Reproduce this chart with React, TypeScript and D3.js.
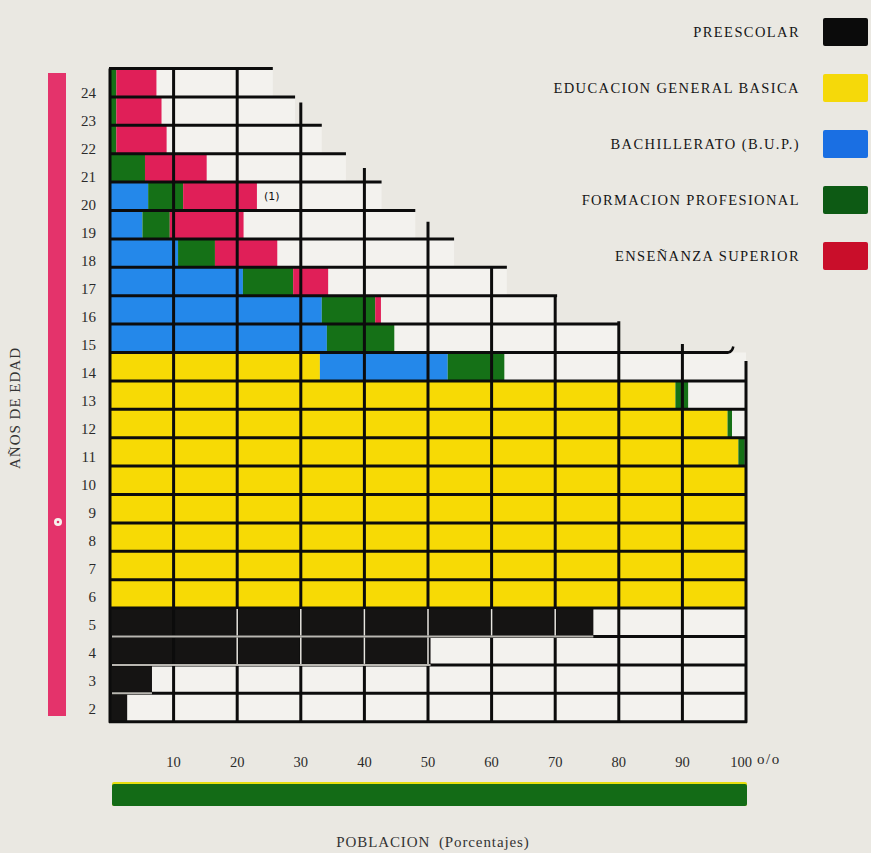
import React from "react";
import * as d3 from "d3";

const ages = [24, 23, 22, 21, 20, 19, 18, 17, 16, 15, 14, 13, 12, 11, 10, 9, 8, 7, 6, 5, 4, 3, 2];
// percentages by age, same order as ages
const preescolar = [0, 0, 0, 0, 0, 0, 0, 0, 0, 0, 0, 0, 0, 0, 0, 0, 0, 0, 0, 76.0, 50.4, 6.6, 2.7];
const egb = [0, 0, 0, 0, 0, 0, 0, 0, 0, 0, 33.0, 88.9, 97.1, 98.8, 100, 100, 100, 100, 100, 0, 0, 0, 0];
const bup = [0, 0, 0, 0, 6.0, 5.1, 10.7, 20.9, 33.3, 34.1, 20.1, 0, 0, 0, 0, 0, 0, 0, 0, 0, 0, 0, 0];
const fp = [1.0, 1.0, 1.0, 5.5, 5.5, 4.3, 5.8, 7.9, 8.4, 10.6, 8.9, 2.0, 0.7, 1.0, 0, 0, 0, 0, 0, 0, 0, 0, 0];
const superior = [6.3, 7.1, 7.9, 9.7, 11.6, 11.6, 9.8, 5.5, 0.9, 0, 0, 0, 0, 0, 0, 0, 0, 0, 0, 0, 0, 0, 0];

// extent (in %) of the horizontal grid line at the top of each age row
const gridExtent = [25.6, 29.1, 33.3, 37.1, 42.7, 48.0, 54.1, 62.4, 70.3, 79.9, 97.2, 100, 100, 100, 100, 100, 100, 100, 100, 100, 100, 100, 100];
// white cell extent per row
const cellExtent = [25.6, 29.1, 33.3, 37.1, 42.7, 48.0, 54.1, 62.4, 70.3, 79.9, 100, 100, 100, 100, 100, 100, 100, 100, 100, 100, 100, 100, 100];
// vertical grid lines: value and the age level where they start
const vTicks = [0, 10, 20, 30, 40, 50, 60, 70, 80, 90, 100];
const vTop = [24.5, 24.5, 24.5, 23.3, 21.0, 19.1, 17.5, 16.5, 15.6, 14.8, 14.2];
const xTickLabels = [10, 20, 30, 40, 50, 60, 70, 80, 90, 100];

const seriesNames = ["PREESCOLAR", "EDUCACION GENERAL BASICA", "BACHILLERATO (B.U.P.)", "FORMACION PROFESIONAL", "ENSEÑANZA SUPERIOR"];
const seriesData = [preescolar, egb, bup, fp, superior];
const barColors = ["#151413", "#f7da05", "#2488ea", "#157117", "#e01f58"];
const legendColors = ["#0b0b0b", "#f5d90a", "#1a6fe3", "#0d5a14", "#c90e2a"];

const W = 871, H = 853;
const PAPER = "#eae8e2";
const CELL = "#f3f2ee";
const serif = "'Liberation Serif', 'DejaVu Serif', serif";

export default function App() {
  const x = d3.scaleLinear().domain([0, 100]).range([110, 746]);
  const y = d3.scaleLinear().domain([24.5, 1.5]).range([68.5, 721.7]);
  const yLab = d3.scaleLinear().domain([24, 2]).range([93, 709]);
  const legendY = d3.scalePoint<string>().domain(seriesNames).range([32, 256]);

  const stacks = ages.map((a, i) => {
    let acc = 0;
    return seriesData.map((s, k) => {
      const v = s[i];
      const seg = { k, x0: acc, x1: acc + v };
      acc += v;
      return seg;
    }).filter((s) => s.x1 > s.x0);
  });

  const lw = 3;

  return (
    <svg width={W} height={H} style={{ position: "absolute", left: 0, top: 0, display: "block" }}>
      <rect x={0} y={0} width={W} height={H} fill={PAPER} />

      {/* white cells */}
      {ages.map((a, i) => (
        <rect key={"c" + a} x={x(0)} y={y(a + 0.5)} width={x(cellExtent[i]) - x(0)} height={y(a - 0.5) - y(a + 0.5)} fill={CELL} />
      ))}

      {/* bars */}
      {ages.map((a, i) =>
        stacks[i].map((s) => (
          <rect key={"b" + a + "-" + s.k} x={x(s.x0)} y={y(a + 0.5)} width={x(s.x1) - x(s.x0)} height={y(a - 0.5) - y(a + 0.5)} fill={barColors[s.k]} />
        ))
      )}

      {/* horizontal grid lines */}
      {ages.map((a, i) => (
        <line key={"h" + a} x1={x(0) - 1} x2={x(gridExtent[i])} y1={y(a + 0.5)} y2={y(a + 0.5)} stroke="#0c0c0c" strokeWidth={lw} />
      ))}
      <line x1={x(0) - 1} x2={x(100) + 1} y1={y(1.5)} y2={y(1.5)} stroke="#0c0c0c" strokeWidth={lw} />
      {/* hook at end of the row-14 line */}
      <path d={`M${x(96)},${y(14.5)} L${x(97.2)},${y(14.5)} Q${x(97.9)},${y(14.5) - 1} ${x(98)},${y(14.5) - 6}`} fill="none" stroke="#0c0c0c" strokeWidth={2.5} />

      {/* vertical grid lines */}
      {vTicks.map((t, j) => (
        <line key={"v" + t} x1={x(t)} x2={x(t)} y1={y(vTop[j])} y2={y(1.5) + 1} stroke="#0c0c0c" strokeWidth={lw} />
      ))}

      {/* light lines inside the black preschool area */}
      {ages.map((a, i) => {
        if (i === 0) return null;
        const ext = Math.max(preescolar[i], preescolar[i - 1]);
        if (ext <= 0 || preescolar[i - 1] <= 0) return null;
        return <line key={"lh" + a} x1={x(0) + 2} x2={x(ext)} y1={y(a + 0.5)} y2={y(a + 0.5)} stroke="#b9b7b1" strokeWidth={2} />;
      })}
      {ages.map((a, i) =>
        vTicks.filter((t) => t >= 20 && t < preescolar[i]).map((t) => (
          <line key={"lv" + a + "-" + t} x1={x(t)} x2={x(t)} y1={y(a + 0.5) + 1} y2={y(a - 0.5) - 1} stroke="#e8e6e0" strokeWidth={1.5} />
        ))
      )}

      {/* (1) note */}
      <text x={x(superior[4] + bup[4] + fp[4]) + 7} y={y(20) + 4} fontFamily="'DejaVu Sans', sans-serif" fontSize={11} fill="#111">(1)</text>

      {/* y labels */}
      {ages.map((a) => (
        <text key={"yl" + a} x={96} y={yLab(a)} dy="0.35em" textAnchor="end" fontFamily={serif} fontSize={15} fill="#2a2a2a">{a}</text>
      ))}

      {/* x tick labels */}
      {xTickLabels.map((t) => (
        <text key={"xl" + t} x={x(t) + (t === 100 ? -5 : 0)} y={767} textAnchor="middle" fontFamily={serif} fontSize={14.5} fill="#2a2a2a">
          {t}
        </text>
      ))}
      <text x={x(100) + 11} y={764} fontFamily={serif} fontSize={15} letterSpacing={1.5} fill="#2a2a2a">o/o</text>

      {/* pink age bar */}
      <rect x={48} y={73} width={18} height={643} fill="#e4336b" />
      <circle cx={58} cy={522} r={4} fill="#f7f2ee" />
      <circle cx={58} cy={522} r={1.3} fill="#e4336b" />

      {/* y title */}
      <text transform="translate(20,408) rotate(-90)" textAnchor="middle" fontFamily={serif} fontSize={15} letterSpacing={1} fill="#333">AÑOS DE EDAD</text>

      {/* green population bar */}
      <rect x={112} y={782} width={635} height={24} fill="#e6df10" rx={2} />
      <rect x={112} y={784} width={635} height={22} fill="#136b16" rx={2} />

      <text x={433} y={847} textAnchor="middle" fontFamily={serif} fontSize={15} letterSpacing={0.9} fill="#333">
        POBLACION <tspan dx={4}>(Porcentajes)</tspan>
      </text>

      {/* legend */}
      {seriesNames.map((n, k) => (
        <g key={"lg" + k}>
          <text x={800} y={legendY(n)!} dy="0.35em" textAnchor="end" fontFamily={serif} fontSize={14.5} letterSpacing={1.4} fill="#161616">{n}</text>
          <rect x={823} y={legendY(n)! - 14} width={45} height={28} rx={2} fill={legendColors[k]} />
        </g>
      ))}
    </svg>
  );
}
